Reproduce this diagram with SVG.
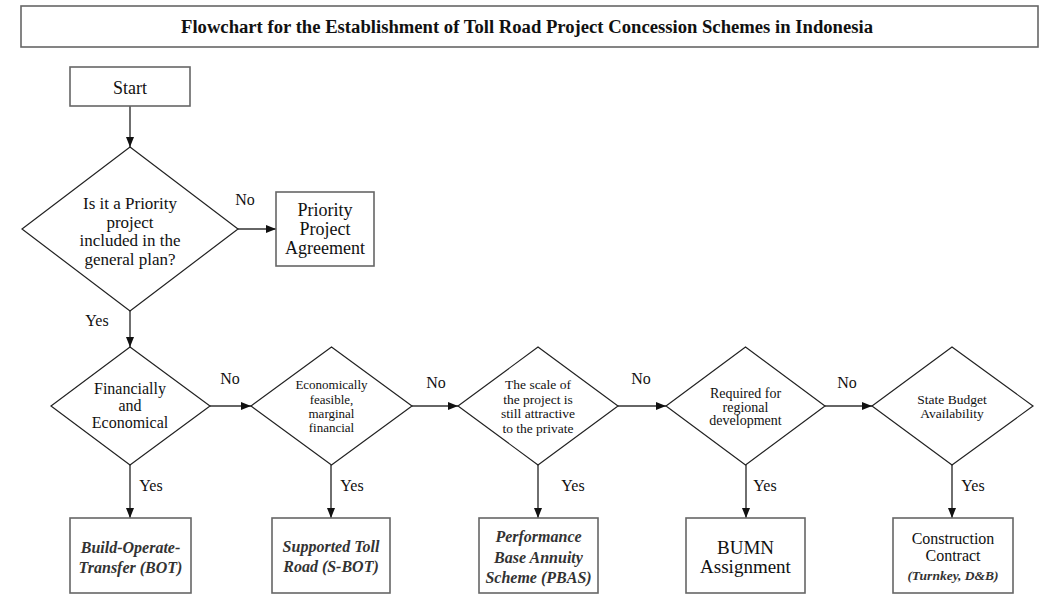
<svg xmlns="http://www.w3.org/2000/svg" width="1047" height="608" viewBox="0 0 1047 608">
<defs>
<marker id="arr" viewBox="0 0 10 10" refX="10" refY="5" markerWidth="10" markerHeight="10" markerUnits="userSpaceOnUse" orient="auto">
<path d="M0,1 L10,5 L0,9 z" fill="#111"/>
</marker>
<style>
text{font-family:"Liberation Serif","Times New Roman",serif;fill:#111;text-anchor:middle}
.box{fill:#fff;stroke:#666;stroke-width:1.6}
.dia{fill:#fff;stroke:#222;stroke-width:1.2}
.con{stroke:#333;stroke-width:1.4;fill:none;marker-end:url(#arr)}
.lbl{font-size:16px}
.bi{font-style:italic;font-weight:bold;font-size:16px;fill:#333}
</style>
</defs>
<rect width="1047" height="608" fill="#fff"/>
<g id="title">
<rect class="box" x="21" y="6" width="1017" height="41"/>
<text x="527" y="33" font-size="18" font-weight="bold" textLength="692" lengthAdjust="spacingAndGlyphs">Flowchart for the Establishment of Toll Road Project Concession Schemes in Indonesia</text>
</g>
<g id="connectors">
<line class="con" x1="130" y1="106" x2="130" y2="147"/>
<line class="con" x1="238" y1="229" x2="276" y2="229"/>
<line class="con" x1="130" y1="311" x2="130" y2="347"/>
<line class="con" x1="210" y1="406" x2="251" y2="406"/>
<line class="con" x1="412" y1="406" x2="458" y2="406"/>
<line class="con" x1="618" y1="406" x2="666" y2="406"/>
<line class="con" x1="825" y1="406" x2="872" y2="406"/>
<line class="con" x1="130" y1="465" x2="130" y2="518"/>
<line class="con" x1="331" y1="465" x2="331" y2="518"/>
<line class="con" x1="538" y1="465" x2="538" y2="518"/>
<line class="con" x1="746" y1="465" x2="746" y2="518"/>
<line class="con" x1="952" y1="465" x2="952" y2="518"/>
<text class="lbl" x="245" y="205">No</text>
<text class="lbl" x="97" y="326">Yes</text>
<text class="lbl" x="230" y="384">No</text>
<text class="lbl" x="436" y="388">No</text>
<text class="lbl" x="641" y="384">No</text>
<text class="lbl" x="847" y="388">No</text>
<text class="lbl" x="151" y="491">Yes</text>
<text class="lbl" x="352" y="491">Yes</text>
<text class="lbl" x="573" y="491">Yes</text>
<text class="lbl" x="765" y="491">Yes</text>
<text class="lbl" x="973" y="491">Yes</text>
</g>
<g id="start">
<rect class="box" x="70" y="67" width="120" height="39"/>
<text x="130" y="94" font-size="18">Start</text>
</g>
<g id="d-priority">
<polygon class="dia" points="130,147 238,229 130,311 22,229"/>
<text x="130" y="209" font-size="17">Is it a Priority</text>
<text x="130" y="227.5" font-size="17">project</text>
<text x="130" y="246" font-size="17">included in the</text>
<text x="130" y="264.5" font-size="17">general plan?</text>
</g>
<g id="priority-agreement">
<rect class="box" x="276" y="192" width="98" height="74"/>
<text x="325" y="216" font-size="18">Priority</text>
<text x="325" y="235" font-size="18">Project</text>
<text x="325" y="254" font-size="18">Agreement</text>
</g>
<g id="d-financial">
<polygon class="dia" points="130,347 210,406 130,465 51,406"/>
<text x="130" y="394" font-size="16">Financially</text>
<text x="130" y="411" font-size="16">and</text>
<text x="130" y="428" font-size="16">Economical</text>
</g>
<g id="d-economic">
<polygon class="dia" points="331.5,347 412,406 331.5,465 251,406"/>
<text x="331.5" y="389" font-size="13">Economically</text>
<text x="331.5" y="404" font-size="13">feasible,</text>
<text x="331.5" y="418" font-size="13">marginal</text>
<text x="331.5" y="432" font-size="13">financial</text>
</g>
<g id="d-scale">
<polygon class="dia" points="538,347 618,406 538,465 458,406"/>
<text x="538" y="388.5" font-size="13.5">The scale of</text>
<text x="538" y="404" font-size="13.5">the project is</text>
<text x="538" y="418" font-size="13.5">still attractive</text>
<text x="538" y="432.5" font-size="13.5">to the private</text>
</g>
<g id="d-regional">
<polygon class="dia" points="745.5,347 825,406 745.5,465 666,406"/>
<text x="745.5" y="398" font-size="14">Required for</text>
<text x="745.5" y="411.5" font-size="14">regional</text>
<text x="745.5" y="425" font-size="14">development</text>
</g>
<g id="d-budget">
<polygon class="dia" points="952,347 1033,406 952,465 872,406"/>
<text x="952" y="403.5" font-size="13.5">State Budget</text>
<text x="952" y="417.5" font-size="13.5">Availability</text>
</g>
<g id="bot">
<rect class="box" x="70" y="518" width="121" height="75"/>
<text class="bi" x="130.5" y="553">Build-Operate-</text>
<text class="bi" x="130.5" y="573">Transfer (BOT)</text>
</g>
<g id="sbot">
<rect class="box" x="272" y="518" width="118" height="75"/>
<text class="bi" x="331" y="552">Supported Toll</text>
<text class="bi" x="331" y="572">Road (S-BOT)</text>
</g>
<g id="pbas">
<rect class="box" x="479" y="518" width="119" height="75"/>
<text class="bi" x="538.5" y="542">Performance</text>
<text class="bi" x="538.5" y="563">Base Annuity</text>
<text class="bi" x="538.5" y="583">Scheme (PBAS)</text>
</g>
<g id="bumn">
<rect class="box" x="686" y="518" width="119" height="75"/>
<text x="745.5" y="554" font-size="19">BUMN</text>
<text x="745.5" y="573" font-size="19">Assignment</text>
</g>
<g id="construction">
<rect class="box" x="893" y="518" width="120" height="75"/>
<text x="953" y="544" font-size="16">Construction</text>
<text x="953" y="561" font-size="16">Contract</text>
<text class="bi" x="953" y="580" style="font-size:13.5px">(Turnkey, D&amp;B)</text>
</g>
</svg>
